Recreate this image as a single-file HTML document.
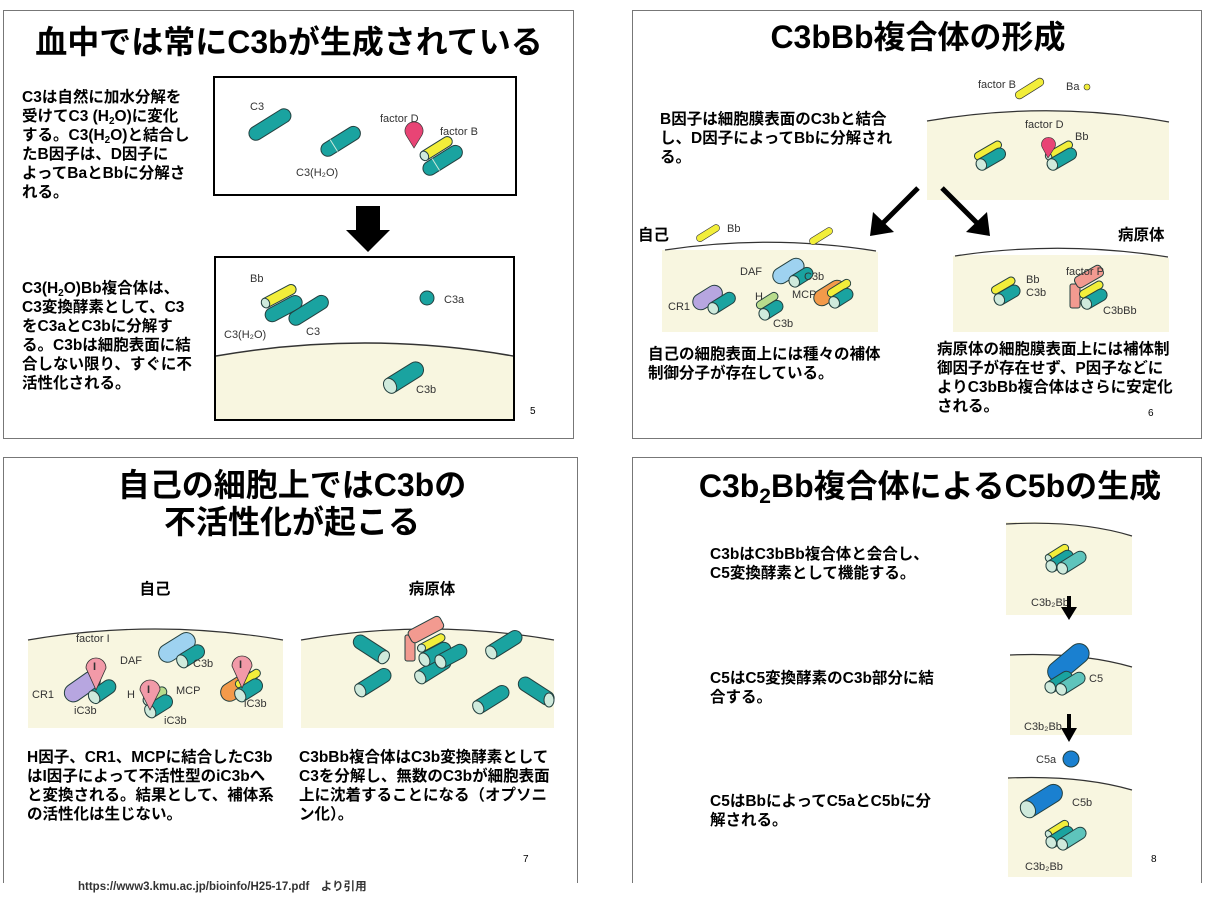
<!DOCTYPE html>
<html><head><meta charset="utf-8"><style>
html,body{margin:0;padding:0;background:#fff;}
svg{display:block;font-family:"Liberation Sans","Noto Sans CJK JP",sans-serif;}
.t{font-weight:bold;font-size:15.5px;fill:#000;}
.ttl{font-weight:bold;font-size:32px;fill:#000;}
.l{font-size:11px;fill:#333;}
.cyl rect{stroke:#24403f;stroke-width:1;}
.cap{fill:#cfeadc;stroke:#24403f;stroke-width:1;}
</style></head><body>
<svg width="1207" height="922" viewBox="0 0 1207 922" xmlns="http://www.w3.org/2000/svg">
<rect x="3.5" y="10.5" width="570" height="428" fill="none" stroke="#777"/>
<rect x="632.5" y="10.5" width="569" height="428" fill="none" stroke="#777"/>
<path d="M3.5 883 V457.5 H577.5 V883" fill="none" stroke="#777"/>
<path d="M632.5 883 V457.5 H1201.5 V883" fill="none" stroke="#777"/>

<!-- ===== Slide 5 ===== -->
<text x="289" y="53" text-anchor="middle" class="ttl">血中では常にC3bが生成されている</text>
<g class="t">
<text x="22" y="102">C3は自然に加水分解を</text>
<text x="22" y="121">受けてC3 (H<tspan font-size="10" dy="3">2</tspan><tspan dy="-3">O)に変化</tspan></text>
<text x="22" y="140">する。C3(H<tspan font-size="10" dy="3">2</tspan><tspan dy="-3">O)と結合し</tspan></text>
<text x="22" y="159">たB因子は、D因子に</text>
<text x="22" y="178">よってBaとBbに分解さ</text>
<text x="22" y="197">れる。</text>
<text x="22" y="293">C3(H<tspan font-size="10" dy="3">2</tspan><tspan dy="-3">O)Bb複合体は、</tspan></text>
<text x="22" y="312">C3変換酵素として、C3</text>
<text x="22" y="331">をC3aとC3bに分解す</text>
<text x="22" y="350">る。C3bは細胞表面に結</text>
<text x="22" y="369">合しない限り、すぐに不</text>
<text x="22" y="388">活性化される。</text>
</g>
<rect x="214" y="77" width="302" height="118" fill="#fff" stroke="#000" stroke-width="2"/>
<g class="cyl"><g transform="translate(250,137) rotate(-32)"><rect x="0" y="-7" width="47" height="14" rx="7" fill="#1aa3a0"/></g></g>
<text x="250" y="110" class="l" font-size="13">C3</text>
<g class="cyl"><g transform="translate(322,153) rotate(-32)"><rect x="0" y="-7" width="44" height="14" rx="7" fill="#1aa3a0"/><line x1="14" y1="-7" x2="14" y2="7" stroke="#cfeadc"/></g></g>
<text x="296" y="176" class="l" font-size="13">C3(H₂O)</text>
<text x="380" y="122" class="l" font-size="13">factor D</text>
<text x="440" y="135" class="l" font-size="13">factor B</text>
<path d="M414 148 L406 135 A9 9 0 1 1 422 135 Z" fill="#e84475" stroke="#333" stroke-width=".7"/>
<g class="cyl"><g transform="translate(421,158) rotate(-32)"><rect x="0" y="-5" width="36" height="10" rx="5" fill="#f2ee3a"/><ellipse cx="4" cy="0" rx="4" ry="5" class="cap"/></g>
<g transform="translate(424,172) rotate(-32)"><rect x="0" y="-7" width="44" height="14" rx="7" fill="#1aa3a0"/><line x1="14" y1="-7" x2="14" y2="7" stroke="#cfeadc"/></g></g>
<polygon points="356,206 380,206 380,230 390,230 368,252 346,230 356,230" fill="#000"/>
<rect x="215" y="257" width="299" height="163" fill="#fff" stroke="#000" stroke-width="2"/>
<path d="M216 356 Q365 330 513 356 L513 419 L216 419 Z" fill="#f8f6e0" stroke="none"/>
<path d="M216 356 Q365 330 513 356" fill="none" stroke="#333" stroke-width="1.5"/>
<text x="250" y="282" class="l" font-size="13">Bb</text>
<g class="cyl"><g transform="translate(262,305) rotate(-28)"><rect x="0" y="-5" width="38" height="10" rx="5" fill="#f2ee3a"/><ellipse cx="4" cy="0" rx="4" ry="5" class="cap"/></g>
<g transform="translate(266,318) rotate(-28)"><rect x="0" y="-7" width="40" height="14" rx="7" fill="#1aa3a0"/></g>
<g transform="translate(290,322) rotate(-32)"><rect x="0" y="-7" width="44" height="14" rx="7" fill="#1aa3a0"/></g></g>
<text x="224" y="338" class="l" font-size="13">C3(H₂O)</text>
<text x="306" y="335" class="l" font-size="13">C3</text>
<circle cx="427" cy="298" r="7" fill="#1aa3a0" stroke="#24403f"/>
<text x="444" y="303" class="l" font-size="13">C3a</text>
<g class="cyl"><g transform="translate(385,389) rotate(-32)"><rect x="0" y="-8" width="44" height="16" rx="8" fill="#1aa3a0"/><ellipse cx="6" cy="0" rx="6" ry="8" class="cap"/></g></g>
<text x="416" y="393" class="l" font-size="13">C3b</text>
<text x="530" y="414" font-size="10">5</text>

<!-- ===== Slide 6 ===== -->
<text x="918" y="48" text-anchor="middle" class="ttl">C3bBb複合体の形成</text>
<rect x="925" y="65" width="246" height="135" fill="#fff"/>
<path d="M927 121 Q1050 100 1169 122 L1169 200 L927 200 Z" fill="#f8f6e0"/>
<path d="M927 121 Q1050 100 1169 122" fill="none" stroke="#333" stroke-width="1.2"/>
<text x="978" y="88" class="l" font-size="10">factor B</text>
<g transform="translate(1016,97) rotate(-32)"><rect x="0" y="-4" width="32" height="8" rx="4" fill="#f2ee3a" stroke="#333" stroke-width=".7"/></g>
<text x="1066" y="90" class="l" font-size="10">Ba</text><circle cx="1087" cy="87" r="3" fill="#f2ee3a" stroke="#333" stroke-width=".6"/>
<text x="1025" y="128" class="l" font-size="10">factor D</text>
<text x="1075" y="140" class="l" font-size="10">Bb</text>
<g class="cyl">
<g transform="translate(975,158) rotate(-30)"><rect x="0" y="-4" width="30" height="8" rx="4" fill="#f2ee3a"/></g>
<g transform="translate(977,167) rotate(-30)"><rect x="0" y="-6" width="32" height="12" rx="6" fill="#1aa3a0"/><ellipse cx="5" cy="0" rx="5" ry="6" class="cap"/></g>
<g transform="translate(1046,158) rotate(-30)"><rect x="0" y="-4" width="30" height="8" rx="4" fill="#f2ee3a"/><ellipse cx="3" cy="0" rx="3" ry="4" class="cap"/></g>
<g transform="translate(1048,167) rotate(-30)"><rect x="0" y="-6" width="32" height="12" rx="6" fill="#1aa3a0"/><ellipse cx="5" cy="0" rx="5" ry="6" class="cap"/></g></g>
<path d="M1048 158 L1042 147 A7 7 0 1 1 1055 147 Z" fill="#e84475" stroke="#333" stroke-width=".6"/>
<g class="t">
<text x="660" y="124">B因子は細胞膜表面のC3bと結合</text>
<text x="660" y="143">し、D因子によってBbに分解され</text>
<text x="660" y="162">る。</text>
</g>
<line x1="918" y1="188" x2="882" y2="224" stroke="#000" stroke-width="5"/>
<polygon points="870,236 873,212 894,232" fill="#000"/>
<line x1="942" y1="188" x2="978" y2="224" stroke="#000" stroke-width="5"/>
<polygon points="990,236 966,232 987,212" fill="#000"/>
<text x="638" y="240" class="t">自己</text>
<text x="1118" y="240" class="t">病原体</text>
<rect x="662" y="250" width="216" height="82" fill="#f8f6e0"/>
<path d="M662 250 Q770 232 878 252 L878 250 L662 250 Z" fill="#fff"/>
<path d="M665 250 Q770 234 876 251" fill="none" stroke="#333" stroke-width="1.2"/>
<g transform="translate(697,240) rotate(-32)"><rect x="0" y="-3.5" width="26" height="7" rx="3.5" fill="#f2ee3a" stroke="#333" stroke-width=".6"/></g>
<text x="727" y="232" class="l" font-size="9">Bb</text>
<g transform="translate(810,243) rotate(-32)"><rect x="0" y="-3.5" width="26" height="7" rx="3.5" fill="#f2ee3a" stroke="#333" stroke-width=".6"/></g>
<g class="cyl">
<g transform="translate(694,306) rotate(-32)"><rect x="0" y="-8" width="32" height="16" rx="8" fill="#b7a6e0"/></g>
<g transform="translate(709,311) rotate(-32)"><rect x="0" y="-6" width="30" height="12" rx="6" fill="#1aa3a0"/><ellipse cx="5" cy="0" rx="5" ry="6" class="cap"/></g>
<g transform="translate(774,280) rotate(-32)"><rect x="0" y="-8" width="34" height="16" rx="8" fill="#9ed2f0"/></g>
<g transform="translate(790,284) rotate(-32)"><rect x="0" y="-6" width="26" height="12" rx="6" fill="#1aa3a0"/><ellipse cx="5" cy="0" rx="5" ry="6" class="cap"/></g>
<g transform="translate(757,307) rotate(-32)"><rect x="0" y="-4" width="24" height="8" rx="4" fill="#b8dc8c"/></g>
<g transform="translate(760,317) rotate(-32)"><rect x="0" y="-6" width="26" height="12" rx="6" fill="#1aa3a0"/><ellipse cx="5" cy="0" rx="5" ry="6" class="cap"/></g>
<g transform="translate(815,302) rotate(-32)"><rect x="0" y="-8" width="34" height="16" rx="8" fill="#f39a4a"/></g>
<g transform="translate(828,295) rotate(-32)"><rect x="0" y="-4" width="26" height="8" rx="4" fill="#f2ee3a"/></g>
<g transform="translate(830,305) rotate(-32)"><rect x="0" y="-6" width="26" height="12" rx="6" fill="#1aa3a0"/><ellipse cx="5" cy="0" rx="5" ry="6" class="cap"/></g>
</g>
<text x="740" y="275" class="l" font-size="9">DAF</text>
<text x="804" y="280" class="l" font-size="9">C3b</text>
<text x="668" y="310" class="l" font-size="9">CR1</text>
<text x="755" y="300" class="l" font-size="9">H</text>
<text x="773" y="327" class="l" font-size="9">C3b</text>
<text x="792" y="298" class="l" font-size="9">MCP</text>
<rect x="953" y="255" width="216" height="77" fill="#f8f6e0"/>
<path d="M953 256 Q1060 238 1169 258 L1169 255 L953 255 Z" fill="#fff"/>
<path d="M955 256 Q1060 240 1168 257" fill="none" stroke="#333" stroke-width="1.2"/>
<g class="cyl">
<g transform="translate(992,292) rotate(-30)"><rect x="0" y="-4" width="26" height="8" rx="4" fill="#f2ee3a"/></g>
<g transform="translate(995,302) rotate(-30)"><rect x="0" y="-6" width="28" height="12" rx="6" fill="#1aa3a0"/><ellipse cx="5" cy="0" rx="5" ry="6" class="cap"/></g>
<rect x="1070" y="284" width="10" height="24" rx="2" fill="#f29a90"/>
<g transform="translate(1076,284) rotate(-30)"><rect x="0" y="-6" width="30" height="12" rx="4" fill="#f29a90"/></g>
<g transform="translate(1080,296) rotate(-30)"><rect x="0" y="-4" width="26" height="8" rx="4" fill="#f2ee3a"/></g>
<g transform="translate(1082,306) rotate(-30)"><rect x="0" y="-6" width="28" height="12" rx="6" fill="#1aa3a0"/><ellipse cx="5" cy="0" rx="5" ry="6" class="cap"/></g>
</g>
<text x="1026" y="283" class="l" font-size="9">Bb</text>
<text x="1026" y="296" class="l" font-size="9">C3b</text>
<text x="1066" y="275" class="l" font-size="9">factor P</text>
<text x="1103" y="314" class="l" font-size="9">C3bBb</text>
<g class="t">
<text x="648" y="359">自己の細胞表面上には種々の補体</text>
<text x="648" y="378">制御分子が存在している。</text>
<text x="937" y="354">病原体の細胞膜表面上には補体制</text>
<text x="937" y="373">御因子が存在せず、P因子などに</text>
<text x="937" y="392">よりC3bBb複合体はさらに安定化</text>
<text x="937" y="411">される。</text>
</g>
<text x="1148" y="416" font-size="10">6</text>

<!-- ===== Slide 7 ===== -->
<text x="292" y="496" text-anchor="middle" class="ttl">自己の細胞上ではC3bの</text>
<text x="292" y="533" text-anchor="middle" class="ttl">不活性化が起こる</text>
<text x="155" y="594" text-anchor="middle" class="t" font-size="16">自己</text>
<text x="432" y="594" text-anchor="middle" class="t" font-size="16">病原体</text>
<path d="M28 640 Q155 618 283 640 L283 728 L28 728 Z" fill="#f8f6e0"/>
<path d="M28 640 Q155 618 283 640" fill="none" stroke="#333" stroke-width="1.2"/>
<path d="M301 640 Q428 618 554 640 L554 728 L301 728 Z" fill="#f8f6e0"/>
<path d="M301 640 Q428 618 554 640" fill="none" stroke="#333" stroke-width="1.2"/>
<g class="cyl">
<g transform="translate(66,698) rotate(-35)"><rect x="0" y="-9" width="40" height="18" rx="9" fill="#b7a6e0"/></g>
<g transform="translate(90,700) rotate(-35)"><rect x="0" y="-7" width="30" height="14" rx="7" fill="#1aa3a0"/><ellipse cx="5" cy="0" rx="5" ry="7" class="cap"/></g>
<g transform="translate(160,658) rotate(-32)"><rect x="0" y="-9" width="40" height="18" rx="9" fill="#9ed2f0"/></g>
<g transform="translate(178,664) rotate(-32)"><rect x="0" y="-7" width="30" height="14" rx="7" fill="#1aa3a0"/><ellipse cx="5" cy="0" rx="5" ry="7" class="cap"/></g>
<g transform="translate(144,703) rotate(-32)"><rect x="0" y="-5" width="26" height="10" rx="5" fill="#b8dc8c"/><ellipse cx="4" cy="0" rx="4" ry="5" class="cap"/></g>
<g transform="translate(146,714) rotate(-32)"><rect x="0" y="-7" width="30" height="14" rx="7" fill="#1aa3a0"/><ellipse cx="5" cy="0" rx="5" ry="7" class="cap"/></g>
<g transform="translate(222,697) rotate(-32)"><rect x="0" y="-9" width="40" height="18" rx="9" fill="#f39a4a"/></g>
<g transform="translate(236,686) rotate(-32)"><rect x="0" y="-4" width="28" height="8" rx="4" fill="#f2ee3a"/></g>
<g transform="translate(236,698) rotate(-32)"><rect x="0" y="-7" width="30" height="14" rx="7" fill="#1aa3a0"/><ellipse cx="5" cy="0" rx="5" ry="7" class="cap"/></g>
</g>
<g fill="#f29aa8" stroke="#333" stroke-width=".8">
<path d="M96 690 L86 668 A10 10 0 1 1 106 668 Z"/>
<path d="M150 710 L140 690 A10 10 0 1 1 160 690 Z"/>
<path d="M242 688 L232 666 A10 10 0 1 1 252 666 Z"/>
</g>
<g font-size="11" font-weight="bold" fill="#333"><text x="93" y="670">I</text><text x="147" y="693">I</text><text x="239" y="668">I</text></g>
<text x="76" y="642" class="l" font-size="11">factor I</text>
<text x="120" y="664" class="l" font-size="11">DAF</text>
<text x="193" y="667" class="l" font-size="11">C3b</text>
<text x="32" y="698" class="l" font-size="11">CR1</text>
<text x="74" y="714" class="l" font-size="11">iC3b</text>
<text x="127" y="698" class="l" font-size="11">H</text>
<text x="164" y="724" class="l" font-size="11">iC3b</text>
<text x="176" y="694" class="l" font-size="11">MCP</text>
<text x="244" y="707" class="l" font-size="11">iC3b</text>
<g class="cyl">
<g transform="translate(388,660) rotate(33)"><rect x="-40" y="-7" width="40" height="14" rx="7" fill="#1aa3a0"/><ellipse cx="-5" cy="0" rx="5" ry="7" class="cap"/></g>
<g transform="translate(356,693) rotate(-32)"><rect x="0" y="-7" width="40" height="14" rx="7" fill="#1aa3a0"/><ellipse cx="5" cy="0" rx="5" ry="7" class="cap"/></g>
<g transform="translate(416,680) rotate(-32)"><rect x="0" y="-7" width="40" height="14" rx="7" fill="#1aa3a0"/><ellipse cx="5" cy="0" rx="5" ry="7" class="cap"/></g>
<g transform="translate(487,655) rotate(-32)"><rect x="0" y="-7" width="40" height="14" rx="7" fill="#1aa3a0"/><ellipse cx="5" cy="0" rx="5" ry="7" class="cap"/></g>
<g transform="translate(474,710) rotate(-32)"><rect x="0" y="-7" width="40" height="14" rx="7" fill="#1aa3a0"/><ellipse cx="5" cy="0" rx="5" ry="7" class="cap"/></g>
<g transform="translate(553,702) rotate(-147)"><rect x="0" y="-7" width="40" height="14" rx="7" fill="#1aa3a0"/></g>
<ellipse cx="549" cy="700" rx="5" ry="7" class="cap"/>
<rect x="405" y="635" width="10" height="26" rx="2" fill="#f29a90"/>
<g transform="translate(410,638) rotate(-28)"><rect x="0" y="-7" width="36" height="14" rx="4" fill="#f29a90"/></g>
<g transform="translate(418,650) rotate(-28)"><rect x="0" y="-4" width="30" height="8" rx="4" fill="#f2ee3a"/><ellipse cx="4" cy="0" rx="4" ry="4" class="cap"/></g>
<g transform="translate(420,662) rotate(-28)"><rect x="0" y="-7" width="34" height="14" rx="7" fill="#1aa3a0"/><ellipse cx="5" cy="0" rx="5" ry="7" class="cap"/></g>
<g transform="translate(436,664) rotate(-28)"><rect x="0" y="-7" width="34" height="14" rx="7" fill="#1aa3a0"/><ellipse cx="5" cy="0" rx="5" ry="7" class="cap"/></g>
</g>
<g class="t">
<text x="27" y="762">H因子、CR1、MCPに結合したC3b</text>
<text x="27" y="781">はI因子によって不活性型のiC3bへ</text>
<text x="27" y="800">と変換される。結果として、補体系</text>
<text x="27" y="819">の活性化は生じない。</text>
<text x="299" y="762">C3bBb複合体はC3b変換酵素として</text>
<text x="299" y="781">C3を分解し、無数のC3bが細胞表面</text>
<text x="299" y="800">上に沈着することになる（オプソニ</text>
<text x="299" y="819">ン化）。</text>
</g>
<text x="523" y="862" font-size="10">7</text>
<text x="78" y="890" font-size="11.5" font-weight="bold" fill="#333">https://www3.kmu.ac.jp/bioinfo/H25-17.pdf　より引用</text>

<!-- ===== Slide 8 ===== -->
<text x="930" y="497" text-anchor="middle" class="ttl">C3b<tspan font-size="21" dy="6">2</tspan><tspan dy="-6">Bb複合体によるC5bの生成</tspan></text>
<rect x="1006" y="522" width="126" height="93" fill="#f8f6e0"/>
<path d="M1006 522 Q1080 520 1132 536 L1132 522 Z" fill="#fff"/>
<path d="M1006 524 Q1080 520 1132 536" fill="none" stroke="#333" stroke-width="1.2"/>
<rect x="1010" y="655" width="122" height="80" fill="#f8f6e0"/>
<path d="M1010 655 Q1080 652 1132 667 L1132 655 Z" fill="#fff"/>
<path d="M1010 655 Q1080 652 1132 667" fill="none" stroke="#333" stroke-width="1.2"/>
<rect x="1008" y="777" width="124" height="100" fill="#f8f6e0"/>
<path d="M1008 777 Q1080 775 1132 790 L1132 777 Z" fill="#fff"/>
<path d="M1008 778 Q1080 775 1132 790" fill="none" stroke="#333" stroke-width="1.2"/>
<g class="cyl">
<g transform="translate(1046,560) rotate(-32)"><rect x="0" y="-4" width="26" height="8" rx="4" fill="#f2ee3a"/><ellipse cx="3" cy="0" rx="3" ry="4" class="cap"/></g>
<g transform="translate(1047,569) rotate(-32)"><rect x="0" y="-6" width="30" height="12" rx="6" fill="#1aa3a0"/><ellipse cx="5" cy="0" rx="5" ry="6" class="cap"/></g>
<g transform="translate(1058,571) rotate(-32)"><rect x="0" y="-6" width="32" height="12" rx="6" fill="#5ec4bc"/><ellipse cx="5" cy="0" rx="5" ry="6" class="cap"/></g>
<g transform="translate(1050,678) rotate(-40)"><rect x="0" y="-10" width="48" height="20" rx="10" fill="#1a80d0"/></g>
<g transform="translate(1046,690) rotate(-32)"><rect x="0" y="-6" width="30" height="12" rx="6" fill="#1aa3a0"/><ellipse cx="5" cy="0" rx="5" ry="6" class="cap"/></g>
<g transform="translate(1057,692) rotate(-32)"><rect x="0" y="-6" width="32" height="12" rx="6" fill="#5ec4bc"/><ellipse cx="5" cy="0" rx="5" ry="6" class="cap"/></g>
<g transform="translate(1022,813) rotate(-32)"><rect x="0" y="-9" width="46" height="18" rx="9" fill="#1a80d0"/><ellipse cx="7" cy="0" rx="7" ry="9" class="cap" fill="#e8f3fa"/></g>
<g transform="translate(1046,836) rotate(-32)"><rect x="0" y="-4" width="26" height="8" rx="4" fill="#f2ee3a"/><ellipse cx="3" cy="0" rx="3" ry="4" class="cap"/></g>
<g transform="translate(1047,845) rotate(-32)"><rect x="0" y="-6" width="30" height="12" rx="6" fill="#1aa3a0"/><ellipse cx="5" cy="0" rx="5" ry="6" class="cap"/></g>
<g transform="translate(1058,847) rotate(-32)"><rect x="0" y="-6" width="32" height="12" rx="6" fill="#5ec4bc"/><ellipse cx="5" cy="0" rx="5" ry="6" class="cap"/></g>
</g>
<circle cx="1071" cy="759" r="8" fill="#1a80d0" stroke="#24403f"/>
<g class="l" font-size="10">
<text x="1031" y="606">C3b₂Bb</text>
<text x="1089" y="682">C5</text>
<text x="1024" y="730">C3b₂Bb</text>
<text x="1036" y="763">C5a</text>
<text x="1072" y="806">C5b</text>
<text x="1025" y="870">C3b₂Bb</text>
</g>
<line x1="1069" y1="596" x2="1069" y2="608" stroke="#000" stroke-width="4"/>
<polygon points="1061,607 1077,607 1069,620" fill="#000"/>
<line x1="1069" y1="714" x2="1069" y2="729" stroke="#000" stroke-width="4"/>
<polygon points="1061,728 1077,728 1069,742" fill="#000"/>
<g class="t">
<text x="710" y="559">C3bはC3bBb複合体と会合し、</text>
<text x="710" y="578">C5変換酵素として機能する。</text>
<text x="710" y="683">C5はC5変換酵素のC3b部分に結</text>
<text x="710" y="702">合する。</text>
<text x="710" y="806">C5はBbによってC5aとC5bに分</text>
<text x="710" y="825">解される。</text>
</g>
<text x="1151" y="862" font-size="10">8</text>
</svg>
</body></html>
